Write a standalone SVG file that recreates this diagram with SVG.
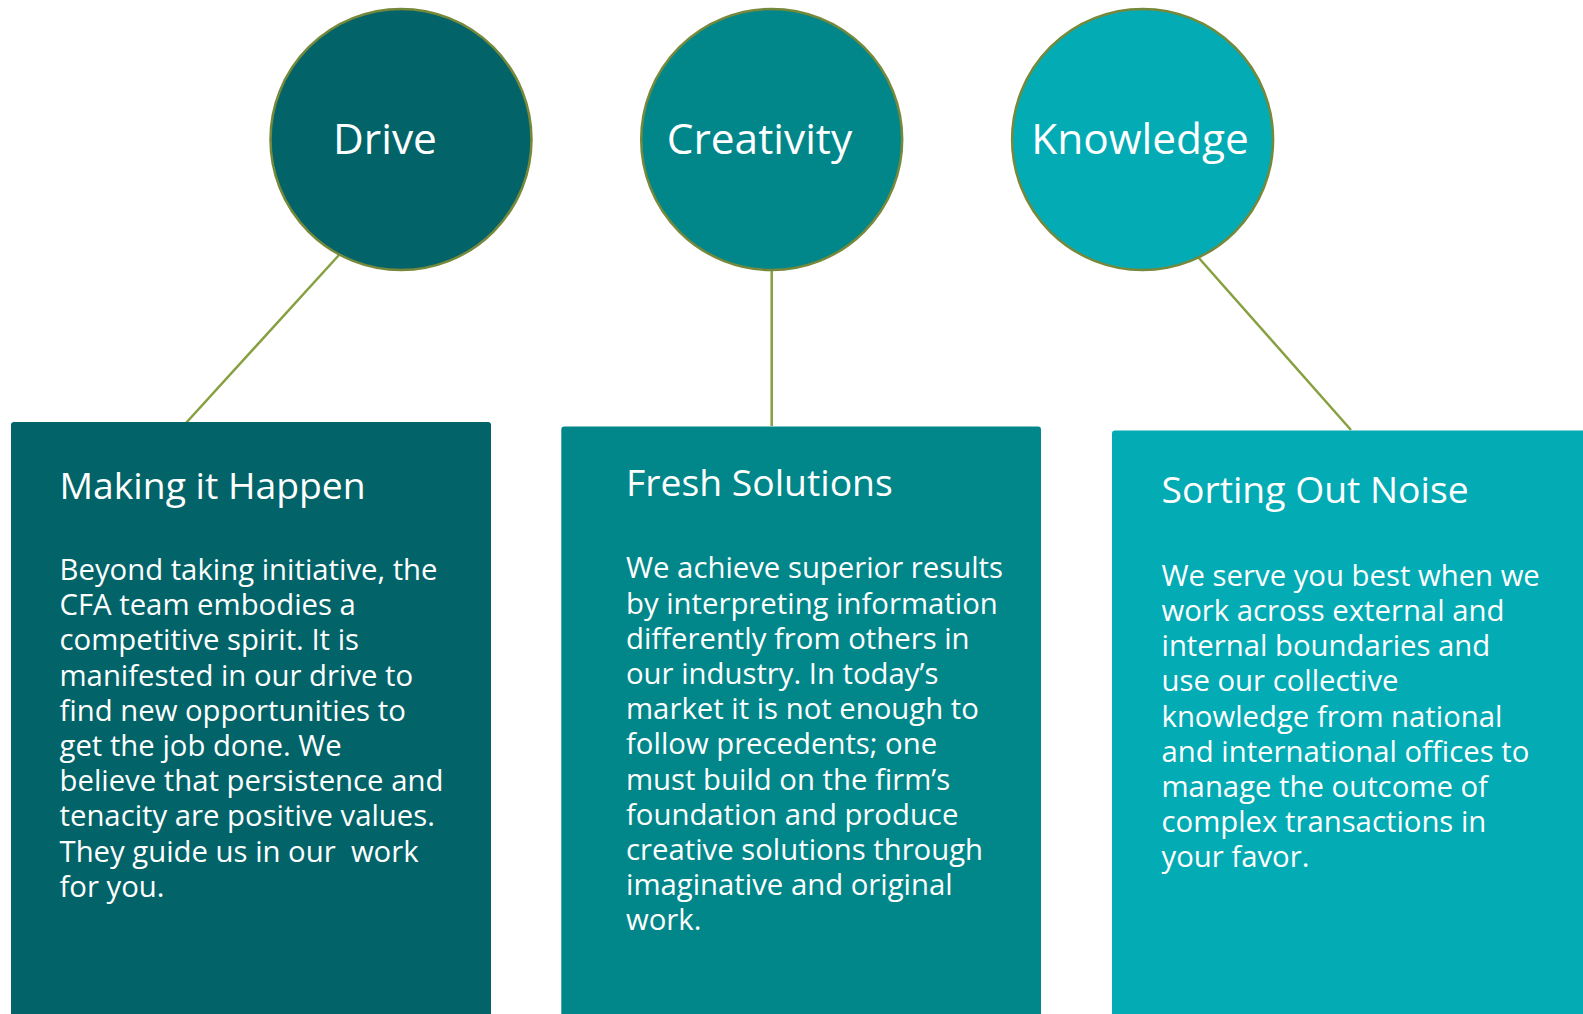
<svg xmlns="http://www.w3.org/2000/svg" width="1583" height="1014" viewBox="0 0 1583 1014">
<style>
  .c1 { fill: #026469; }
  .c2 { fill: #01878A; }
  .c3 { fill: #03ABB4; }
  .circ { stroke: #76893a; stroke-width: 2.5; }
  .lbl { font-family: "Open Sans", "Noto Sans", sans-serif; font-size: 42.4px; fill: #ffffff; text-anchor: middle; }
  .ttl { font-family: "Open Sans", "Noto Sans", sans-serif; font-size: 37.3px; fill: #ffffff; }
  .body { font-family: "Open Sans", "Noto Sans", sans-serif; font-size: 29.3px; fill: #ffffff; }
  .conn { stroke: #86a040; stroke-width: 2.5; fill: none; }
</style>
<rect width="1583" height="1014" fill="#ffffff"/>
<g id="connectors">
  <line class="conn" x1="339" y1="255" x2="186" y2="423"/>
  <line class="conn" x1="771.7" y1="271" x2="771.7" y2="426"/>
  <line class="conn" x1="1198" y1="257" x2="1351" y2="430"/>
</g>
<g id="drive">
  <circle class="c1 circ" cx="401" cy="139.5" r="130.5"/>
  <text class="lbl" x="385" y="154">Drive</text>
</g>
<g id="creativity">
  <circle class="c2 circ" cx="771.7" cy="139.5" r="130.5"/>
  <text class="lbl" x="759.5" y="154">Creativity</text>
</g>
<g id="knowledge">
  <circle class="c3 circ" cx="1142.6" cy="139.5" r="130.5"/>
  <text class="lbl" x="1140" y="154">Knowledge</text>
</g>
<g id="making-it-happen">
  <rect class="c1" x="11" y="422" width="480" height="600" rx="3"/>
  <text class="ttl" x="59.5" y="498.5">Making it Happen</text>
  <text class="body" x="59.5" y="580">Beyond taking initiative, the</text>
  <text class="body" x="59.5" y="615.2">CFA team embodies a</text>
  <text class="body" x="59.5" y="650.4">competitive spirit. It is</text>
  <text class="body" x="59.5" y="685.6">manifested in our drive to</text>
  <text class="body" x="59.5" y="720.8">find new opportunities to</text>
  <text class="body" x="59.5" y="756">get the job done. We</text>
  <text class="body" x="59.5" y="791.2">believe that persistence and</text>
  <text class="body" x="59.5" y="826.4">tenacity are positive values.</text>
  <text class="body" x="59.5" y="861.6" xml:space="preserve">They guide us in our  work</text>
  <text class="body" x="59.5" y="896.8">for you.</text>
</g>
<g id="fresh-solutions">
  <rect class="c2" x="561.3" y="426.5" width="479.7" height="600" rx="3"/>
  <text class="ttl" x="626" y="496">Fresh Solutions</text>
  <text class="body" x="626" y="578.3">We achieve superior results</text>
  <text class="body" x="626" y="613.5">by interpreting information</text>
  <text class="body" x="626" y="648.7">differently from others in</text>
  <text class="body" x="626" y="683.9">our industry. In today’s</text>
  <text class="body" x="626" y="719.1">market it is not enough to</text>
  <text class="body" x="626" y="754.3">follow precedents; one</text>
  <text class="body" x="626" y="789.5">must build on the firm’s</text>
  <text class="body" x="626" y="824.7">foundation and produce</text>
  <text class="body" x="626" y="859.9">creative solutions through</text>
  <text class="body" x="626" y="895.1">imaginative and original</text>
  <text class="body" x="626" y="930.3">work.</text>
</g>
<g id="sorting-out-noise">
  <rect class="c3" x="1112" y="430.5" width="480" height="600" rx="3"/>
  <text class="ttl" x="1161.5" y="503.3">Sorting Out Noise</text>
  <text class="body" x="1161.5" y="585.7">We serve you best when we</text>
  <text class="body" x="1161.5" y="620.9">work across external and</text>
  <text class="body" x="1161.5" y="656.1">internal boundaries and</text>
  <text class="body" x="1161.5" y="691.3">use our collective</text>
  <text class="body" x="1161.5" y="726.5">knowledge from national</text>
  <text class="body" x="1161.5" y="761.7">and international offices to</text>
  <text class="body" x="1161.5" y="796.9">manage the outcome of</text>
  <text class="body" x="1161.5" y="832.1">complex transactions in</text>
  <text class="body" x="1161.5" y="867.3">your favor.</text>
</g>
</svg>
